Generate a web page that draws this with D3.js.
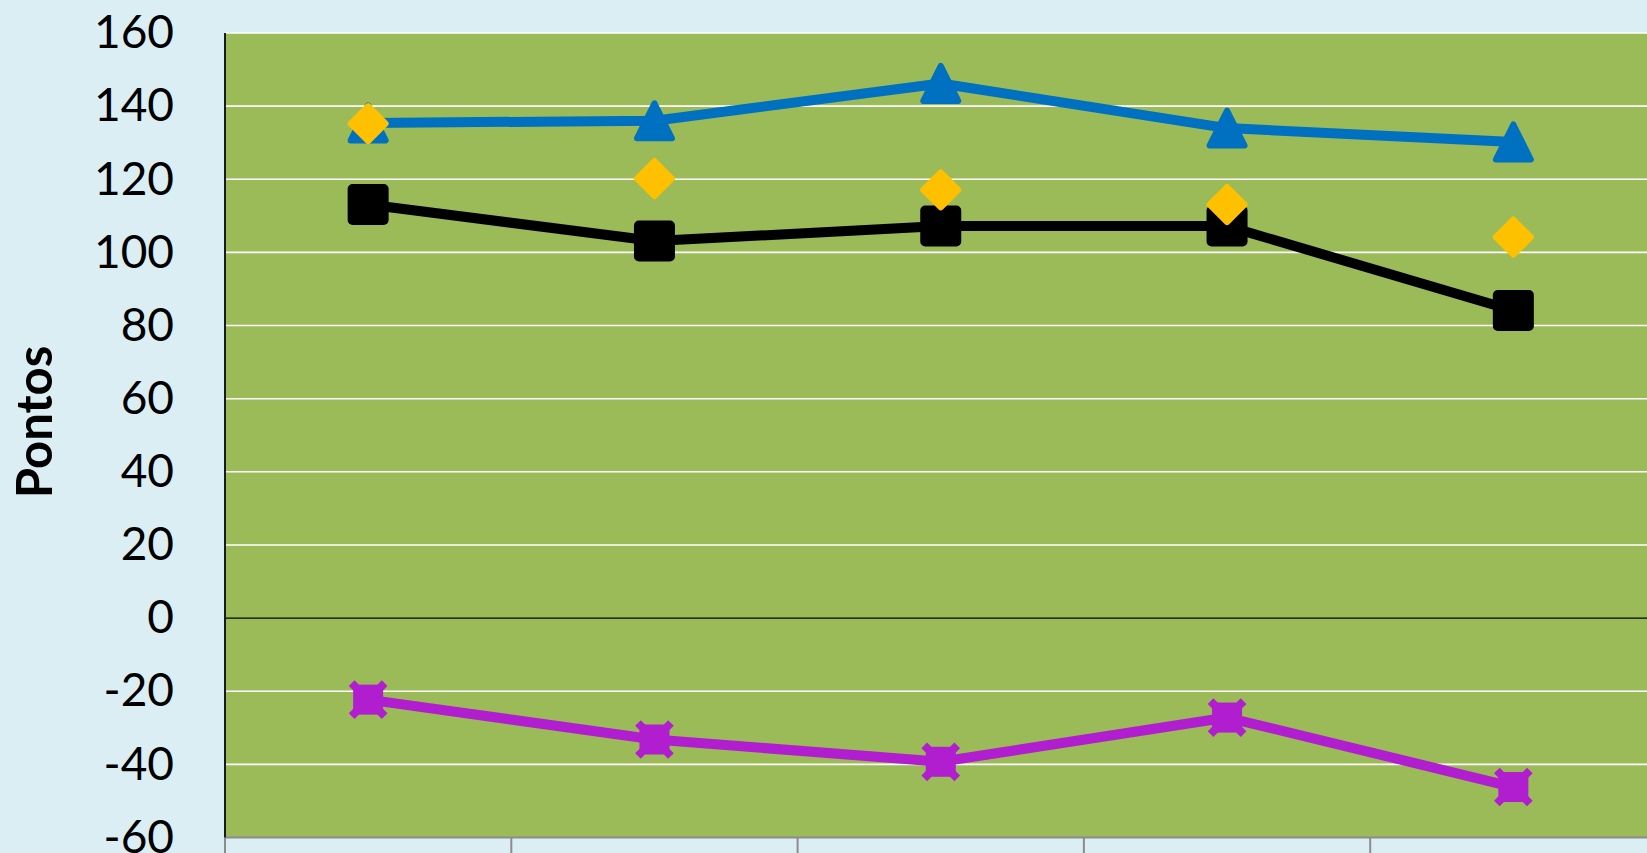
<!DOCTYPE html>
<html>
<head>
<meta charset="utf-8">
<script src="https://cdn.jsdelivr.net/npm/d3@7"></script>
<style>
  html, body { margin: 0; padding: 0; background: #DBEEF4; overflow: hidden; }
  svg { display: block; }
</style>
</head>
<body>
<svg id="chart" width="1647" height="853"></svg>
<script>
// ---- data ----
const categories = ["1", "2", "3", "4", "5"];
const seriesBlue   = [135.4, 136, 146.2, 134, 130.2];   // triangles
const seriesBlack  = [113.1, 103.1, 107.2, 107.2, 84.1]; // squares
const seriesYellow = [135.2, 120.2, 117.1, 113.1, 104.2]; // diamonds (markers only)
const seriesPurple = [-22.3, -33.2, -39.3, -27.2, -46.2]; // x-squares
const yTicks = [-60, -40, -20, 0, 20, 40, 60, 80, 100, 120, 140, 160];
const yTitle = "Pontos";

// ---- layout ----
const svg = d3.select("#chart");
const pLeft = 225, pTop = 33, pBottom = 837.5, band = 286.3;
const pRight = pLeft + band * categories.length;

const x = d3.scaleBand().domain(categories).range([pLeft, pRight]).padding(0);
const y = d3.scaleLinear().domain([-60, 160]).range([pBottom, pTop]);
const cx = c => x(c) + x.bandwidth() / 2;

// plot background
svg.append("rect").attr("x", pLeft).attr("y", pTop)
  .attr("width", pRight - pLeft).attr("height", pBottom - pTop)
  .attr("fill", "#9BBB59");

// gridlines
svg.append("g").selectAll("line").data(yTicks.filter(v => v !== 0 && v !== -60)).join("line")
  .attr("x1", pLeft).attr("x2", pRight)
  .attr("y1", d => y(d)).attr("y2", d => y(d))
  .attr("stroke", "#FFFFFF").attr("stroke-width", 1.6);

// zero line
svg.append("line").attr("x1", pLeft).attr("x2", pRight)
  .attr("y1", y(0)).attr("y2", y(0))
  .attr("stroke", "#000").attr("stroke-width", 1.4);

// bottom axis (at -60) with tick marks between categories
const xAxisG = svg.append("g");
xAxisG.append("line").attr("x1", pLeft).attr("x2", pRight)
  .attr("y1", y(-60)).attr("y2", y(-60))
  .attr("stroke", "#8C8C8C").attr("stroke-width", 2);
const bounds = categories.map(c => x(c)).concat([pRight]);
xAxisG.selectAll("line.tk").data(bounds).join("line").attr("class", "tk")
  .attr("x1", d => d).attr("x2", d => d)
  .attr("y1", y(-60)).attr("y2", y(-60) + 20)
  .attr("stroke", "#8C8C8C").attr("stroke-width", 2);

// left axis
const yAxis = d3.axisLeft(y).tickValues(yTicks).tickSize(0).tickPadding(51)
  .tickFormat(d => String(d));
const yg = svg.append("g").attr("transform", `translate(${pLeft},0)`).call(yAxis);
yg.select(".domain").remove();
yg.selectAll("text")
  .attr("font-family", "Lato, 'Open Sans', sans-serif")
  .attr("font-size", 46).attr("fill", "#000");
svg.append("line").attr("x1", pLeft).attr("x2", pLeft)
  .attr("y1", pTop).attr("y2", pBottom)
  .attr("stroke", "#1a1a1a").attr("stroke-width", 2);

// y title
svg.append("text")
  .attr("transform", `translate(52,422) rotate(-90)`)
  .attr("text-anchor", "middle")
  .attr("font-family", "Lato, 'Open Sans', sans-serif")
  .attr("font-weight", "bold").attr("font-size", 49)
  .attr("fill", "#000").text(yTitle);

const line = d3.line().x((d, i) => cx(categories[i])).y(d => y(d));

function drawLine(vals, color) {
  svg.append("path").datum(vals).attr("d", line)
    .attr("fill", "none").attr("stroke", color).attr("stroke-width", 10)
    .attr("stroke-linejoin", "round");
}

// black squares
drawLine(seriesBlack, "#000000");
svg.append("g").selectAll("rect").data(seriesBlack).join("rect")
  .attr("x", (d, i) => cx(categories[i]) - 20.5).attr("y", d => y(d) - 20.5)
  .attr("width", 41).attr("height", 41).attr("rx", 5)
  .attr("fill", "#000");

// blue triangles
drawLine(seriesBlue, "#0070C0");
const tri = "M0,-17.5 L17.5,17.5 L-17.5,17.5 Z";
svg.append("g").selectAll("path").data(seriesBlue).join("path")
  .attr("transform", (d, i) => `translate(${cx(categories[i])},${y(d)})`)
  .attr("d", tri).attr("fill", "#0070C0")
  .attr("stroke", "#0070C0").attr("stroke-width", 6).attr("stroke-linejoin", "round");

// purple
drawLine(seriesPurple, "#B11ECF");
const pg = svg.append("g").selectAll("g").data(seriesPurple).join("g")
  .attr("transform", (d, i) => `translate(${cx(categories[i])},${y(d)})`);
pg.append("rect").attr("x", -15).attr("y", -15).attr("width", 30).attr("height", 30)
  .attr("fill", "#B11ECF");
pg.append("path").attr("d", "M-16.5,-16.5 L16.5,16.5 M-16.5,16.5 L16.5,-16.5")
  .attr("stroke", "#B11ECF").attr("stroke-width", 8).attr("fill", "none");

// yellow diamonds (markers only)
const dia = "M0,-17.5 L17.5,0 L0,17.5 L-17.5,0 Z";
svg.append("g").selectAll("path").data(seriesYellow).join("path")
  .attr("transform", (d, i) => `translate(${cx(categories[i])},${y(d)})`)
  .attr("d", dia).attr("fill", "#FFC000")
  .attr("stroke", "#FFC000").attr("stroke-width", 6).attr("stroke-linejoin", "round");
</script>
</body>
</html>
